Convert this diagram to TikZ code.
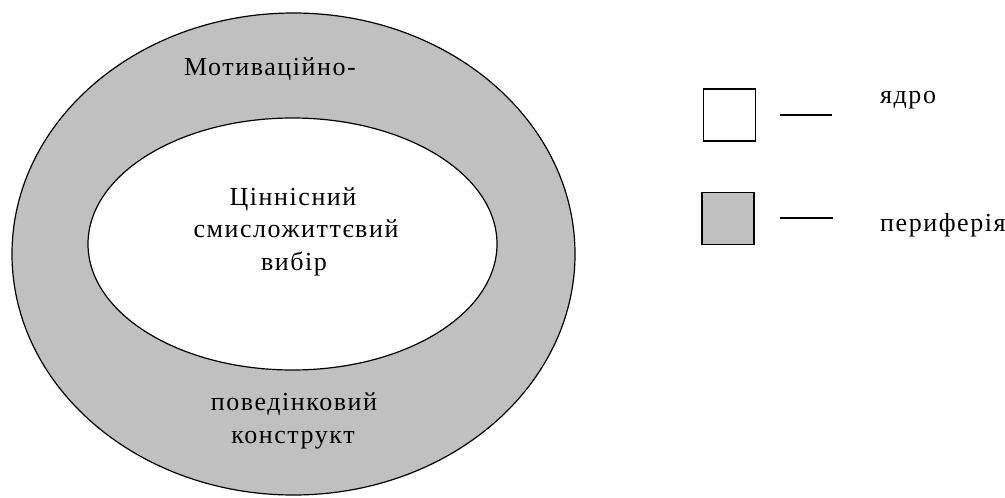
\documentclass[tikz,border=0pt]{standalone}
\usepackage{fontspec}
\setmainfont{Liberation Serif}[LetterSpace=6]
\usetikzlibrary{shapes.geometric}
\definecolor{periph}{RGB}{192,192,192}
\tikzset{
  ring/.style={ellipse, draw=black, line width=1.2pt, inner sep=0pt},
  legbox/.style={rectangle, draw=black, line width=1.2pt, inner sep=0pt, minimum width=52pt, minimum height=52pt},
  lbl/.style={anchor=base, inner sep=0pt, font=\fontsize{26}{32}\selectfont},
  dashline/.style={line width=1.2pt}
}
\begin{document}
\begin{tikzpicture}[x=1pt,y=-1pt]
\useasboundingbox (0,0) rectangle (1005,498);
\node[ring, fill=periph, minimum width=563pt, minimum height=482pt] (outer) at (293.5,254) {};
\node[ring, fill=white, minimum width=409pt, minimum height=252pt] (inner) at (292.5,244) {};
\node[lbl] (t1) at (270,75) {Мотиваційно-};
\node[lbl] (t2) at (293,205) {Ціннісний};
\node[lbl] (t3) at (296,237) {смисложиттєвий};
\node[lbl] (t4) at (294,270) {вибір};
\node[lbl] (t5) at (294,410) {поведінковий};
\node[lbl] (t6) at (293,443) {конструкт};
\node[legbox, fill=white] (core) at (729.5,115) {};
\node[legbox, fill=periph] (per) at (728,218.5) {};
\coordinate (l1a) at (780,115);
\coordinate (l1b) at (832,115);
\coordinate (l2a) at (780,218);
\coordinate (l2b) at (833,218);
\draw[dashline] (l1a) -- (l1b);
\draw[dashline] (l2a) -- (l2b);
\node[lbl, anchor=base west] (k1) at (880,103) {ядро};
\node[lbl, anchor=base west] (k2) at (880,231) {периферія};
\end{tikzpicture}
\end{document}
